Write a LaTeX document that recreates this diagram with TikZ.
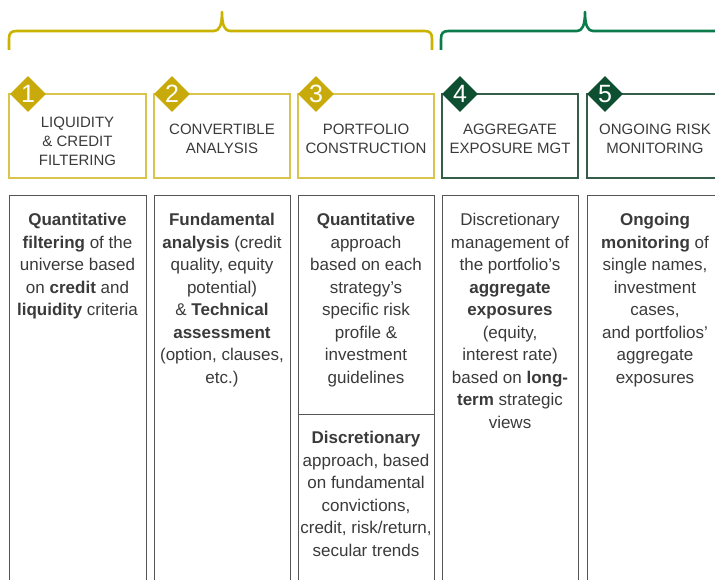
\documentclass[tikz,border=0pt]{standalone}
\usepackage{fontspec}
\setmainfont{Liberation Sans}
\usetikzlibrary{shapes.geometric}
\definecolor{goldline}{HTML}{C9B300}
\definecolor{goldfill}{HTML}{C8AA0A}
\definecolor{goldedge}{HTML}{D9C54D}
\definecolor{pineline}{HTML}{0B7B4C}
\definecolor{pinefill}{HTML}{0D4F30}
\definecolor{pineedge}{HTML}{355E48}
\definecolor{boxgray}{HTML}{555555}
\definecolor{txtgray}{HTML}{3A3A3A}
\tikzset{
  brace/.style={line width=2.6pt, line join=round},
  hdrbox/.style={line width=1.4pt},
  bodybox/.style={draw=boxgray, line width=1pt},
  badge/.style={diamond, inner sep=0pt, minimum width=36pt, minimum height=36pt, text=white, font=\fontsize{25}{25}\selectfont},
  hdrtxt/.style={font=\fontsize{15}{19}\selectfont, text=txtgray, align=center, inner sep=0pt, anchor=north},
  bodytxt/.style={font=\fontsize{17}{22.5}\selectfont, text=txtgray, align=center, inner sep=0pt, anchor=north},
}

\begin{document}
\begin{tikzpicture}[x=1pt,y=1pt]
  \useasboundingbox (0,0) rectangle (715,-580);
  \clip (0,0) rectangle (715,-580);
  % braces over the two phases
  \draw[brace, draw=goldline] (9,-50) -- (9,-39) .. controls (9,-33) and (11,-31) .. (17,-31) -- (214,-31)
    .. controls (219,-31) and (222,-26) .. (222,-12) .. controls (222,-26) and (225,-31) .. (230,-31)
    -- (424,-31) .. controls (430,-31) and (432,-33) .. (432,-39) -- (432,-50);
  \draw[brace, draw=pineline] (441,-50) -- (441,-39) .. controls (441,-33) and (443,-31) .. (449,-31) -- (577,-31)
    .. controls (582,-31) and (585,-26) .. (585,-12) .. controls (585,-26) and (588,-31) .. (593,-31)
    -- (721,-31) .. controls (727,-31) and (729,-33) .. (729,-39) -- (729,-50);
  % step headers
  \draw[hdrbox, draw=goldedge] (9,-94) rectangle (146,-178);
  \draw[hdrbox, draw=goldedge] (154,-94) rectangle (290,-178);
  \draw[hdrbox, draw=goldedge] (298,-94) rectangle (434,-178);
  \draw[hdrbox, draw=pineedge] (442,-94) rectangle (578,-178);
  \draw[hdrbox, draw=pineedge] (587,-94) rectangle (724,-178);
  \node[badge, fill=goldfill] (b1) at (28,-94) {1};
  \node[badge, fill=goldfill] (b2) at (172,-94) {2};
  \node[badge, fill=goldfill] (b3) at (316,-94) {3};
  \node[badge, fill=pinefill] (b4) at (460,-94) {4};
  \node[badge, fill=pinefill] (b5) at (605,-94) {5};
  \node[hdrtxt] (h1) at (77.5,-117) {LIQUIDITY\\\& CREDIT\\FILTERING};
  \node[hdrtxt] (h2) at (222,-124) {CONVERTIBLE\\ANALYSIS};
  \node[hdrtxt] (h3) at (366,-124) {PORTFOLIO\\CONSTRUCTION};
  \node[hdrtxt] (h4) at (510,-124) {AGGREGATE\\EXPOSURE MGT};
  \node[hdrtxt] (h5) at (655,-124) {ONGOING RISK\\MONITORING};
  % step details
  \draw[bodybox] (9,-196) rectangle (146,-600);
  \draw[bodybox] (154,-196) rectangle (290,-600);
  \draw[bodybox] (298,-196) rectangle (434,-600);
  \draw[bodybox] (298,-414) -- (434,-414);
  \draw[bodybox] (442,-196) rectangle (578,-600);
  \draw[bodybox] (587,-196) rectangle (724,-600);
  \node[bodytxt] (d1) at (77.5,-213) {\textbf{Quantitative}\\\textbf{filtering} of the\\universe based\\on \textbf{credit} and\\\textbf{liquidity} criteria};
  \node[bodytxt] (d2) at (222,-213) {\textbf{Fundamental}\\\textbf{analysis} (credit\\quality, equity\\potential)\\\& \textbf{Technical}\\\textbf{assessment}\\(option, clauses,\\etc.)};
  \node[bodytxt] (d3a) at (366,-213) {\textbf{Quantitative}\\approach\\based on each\\strategy's\\specific risk\\profile \&\\investment\\guidelines};
  \node[bodytxt] (d3b) at (366,-431) {\textbf{Discretionary}\\approach, based\\on fundamental\\convictions,\\credit, risk/return,\\secular trends};
  \node[bodytxt] (d4) at (510,-213) {Discretionary\\management of\\the portfolio's\\\textbf{aggregate}\\\textbf{exposures}\\(equity,\\interest rate)\\based on \textbf{long-}\\\textbf{term} strategic\\views};
  \node[bodytxt] (d5) at (655,-213) {\textbf{Ongoing}\\\textbf{monitoring} of\\single names,\\investment\\cases,\\and portfolios'\\aggregate\\exposures};
\end{tikzpicture}
\end{document}
